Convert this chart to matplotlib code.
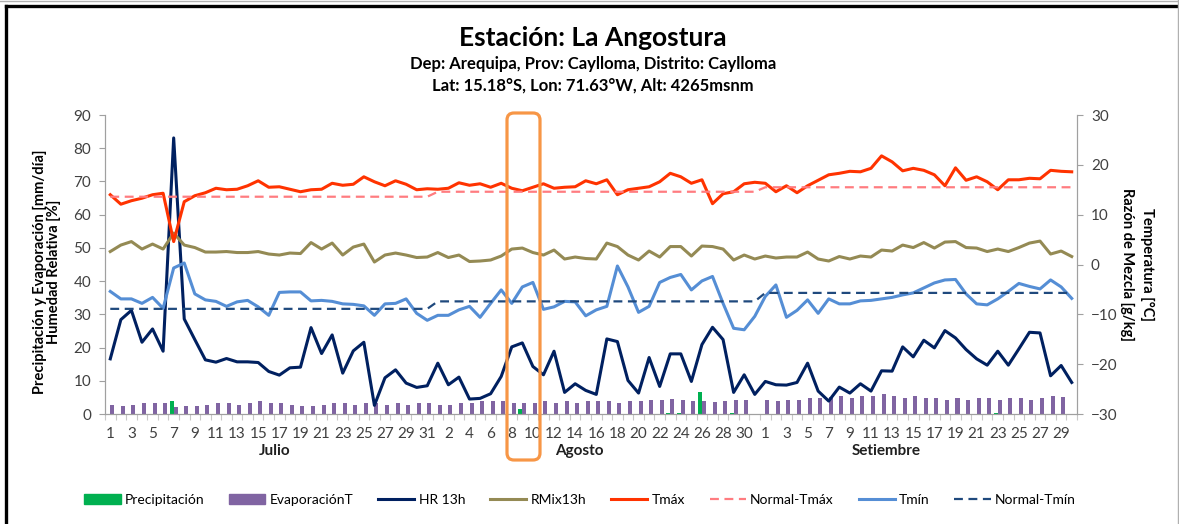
import numpy as np
import matplotlib
matplotlib.use('Agg')
import matplotlib.pyplot as plt
from matplotlib.patches import FancyBboxPatch, Patch
from matplotlib.lines import Line2D
import matplotlib.transforms as mtransforms

plt.rcParams['font.family'] = ['Lato', 'DejaVu Sans']

# dias Julio (31), Agosto (31), Setiembre (30)
days = list(range(1, 32)) + list(range(1, 32)) + list(range(1, 31))
months = ['Julio', 'Agosto', 'Setiembre']

precip = [0, 0, 0, 0, 0, 0, 3.8, 0, 0, 0, 0, 0, 0, 0, 0, 0, 0, 0, 0, 0, 0, 0, 0, 0, 0, 0, 0, 0, 0, 0, 0,
          0, 0, 0, 0, 0, 0, 0, 0, 1.6, 0, 0, 0, 0, 0, 0, 0, 0.1, 0, 0, 0, 0, 0, 0.2, 0.2, 0, 6.6, 0, 0, 0.2, 0, 0,
          0, 0, 0, 0, 0, 0, 0, 0, 0, 0, 0, 0, 0, 0, 0, 0, 0, 0, 0, 0, 0, 0, 0.2, 0, 0, 0, 0, 0, 0, 0]
evap = [2.8, 2.3, 2.8, 3.3, 3.3, 3.3, 2.1, 2.3, 2.3, 2.8, 3.3, 3.3, 2.8, 3.3, 3.8, 3.3, 3.3, 2.8, 2.3, 2.3,
        2.8, 3.3, 3.3, 2.8, 3.3, 3.3, 2.8, 3.3, 2.8, 3.3, 3.3,
        2.8, 2.8, 3.3, 3.3, 4.0, 4.0, 4.0, 3.3, 3.3, 3.3, 3.8, 3.3, 4.0, 3.3, 4.0, 4.0, 4.0, 3.3, 4.0,
        4.0, 4.3, 4.3, 4.6, 4.3, 4.0, 4.0, 3.5, 4.0, 4.3, 4.3, np.nan,
        4.3, 3.8, 4.3, 4.3, 4.8, 4.8, 5.0, 5.3, 4.8, 5.3, 5.3, 6.0, 5.3, 4.8, 5.3, 4.8, 4.8, 4.3, 4.8,
        4.3, 4.8, 4.8, 4.3, 4.8, 4.8, 4.3, 4.8, 5.3, 5.0, np.nan]
hr = [16.6, 28.4, 31.2, 21.6, 25.6, 18.9, 83.1, 28.6, 22.4, 16.3, 15.6, 16.7, 15.7, 15.7, 15.5, 12.8,
      11.7, 13.9, 14.1, 26.0, 18.2, 23.8, 12.3, 19.0, 21.6, 2.6, 10.9, 13.3, 9.3, 8.0, 8.5,
      15.3, 8.8, 11.1, 4.5, 4.7, 6.1, 11.3, 20.2, 21.4, 14.3, 11.8, 18.9, 6.5, 9.1, 7.1, 5.9, 22.6,
      21.8, 10.1, 6.3, 17.0, 8.3, 18.1, 18.1, 9.8, 20.9, 26.1, 22.4, 6.5, 11.8, 5.9,
      9.8, 8.8, 8.7, 9.5, 15.3, 6.9, 3.9, 8.1, 6.3, 9.1, 6.9, 13.0, 12.9, 20.2, 17.2, 22.2, 19.9,
      25.1, 22.9, 19.4, 16.6, 14.7, 18.9, 14.7, 19.6, 24.6, 24.4, 11.5, 14.6, 9.5]
rmix = [2.6, 3.9, 4.6, 3.1, 4.1, 3.1, 6.3, 3.9, 3.4, 2.5, 2.5, 2.6, 2.4, 2.4, 2.6, 2.1, 1.9, 2.3, 2.2,
        4.4, 3.1, 4.3, 1.9, 3.5, 4.1, 0.5, 1.9, 2.3, 1.9, 1.4, 1.5,
        2.4, 1.4, 1.9, 0.6, 0.7, 0.9, 1.7, 3.1, 3.3, 2.4, 1.9, 2.9, 1.1, 1.5, 1.2, 1.1, 4.3, 3.6, 1.9,
        0.9, 2.7, 1.5, 3.6, 3.6, 1.7, 3.7, 3.6, 3.1, 0.9, 1.9, 1.1,
        1.7, 1.3, 1.5, 1.5, 2.5, 1.1, 0.7, 1.6, 1.1, 1.7, 1.5, 2.9, 2.7, 3.9, 3.4, 4.4, 3.3, 4.5, 4.6,
        3.4, 3.3, 2.6, 3.1, 2.6, 3.4, 4.3, 4.7, 2.1, 2.7, 1.6]
tmax = [14.0, 12.1, 12.8, 13.3, 14.0, 14.3, 4.6, 12.6, 13.8, 14.4, 15.3, 15.0, 15.1, 15.8, 16.8, 15.5,
        15.6, 15.1, 14.6, 15.0, 15.1, 16.3, 15.9, 16.1, 17.6, 16.6, 15.8, 16.8, 16.1, 15.0, 15.2,
        15.1, 15.3, 16.4, 15.9, 16.2, 15.5, 16.3, 15.3, 14.8, 15.5, 16.2, 15.3, 15.5, 15.6, 16.8, 16.2,
        17.0, 14.0, 15.0, 15.3, 15.6, 16.6, 18.3, 17.6, 16.3, 17.0, 12.2, 14.2, 14.6, 16.2, 16.5,
        16.3, 14.6, 15.8, 14.4, 15.8, 16.9, 18.0, 18.3, 18.7, 18.6, 19.3, 21.8, 20.6, 18.8, 19.3, 18.9,
        18.0, 15.8, 19.4, 16.9, 17.6, 16.6, 15.0, 17.0, 17.0, 17.3, 17.2, 18.9, 18.7, 18.6]
tmin = [-5.4, -6.9, -6.9, -7.8, -6.6, -8.8, -0.7, 0.3, -5.9, -7.1, -7.4, -8.4, -7.5, -7.2, -8.5, -10.2,
        -5.6, -5.5, -5.5, -7.3, -7.2, -7.4, -7.9, -8.0, -8.3, -10.2, -7.9, -7.8, -6.9, -9.8, -11.2,
        -10.2, -10.2, -9.1, -8.4, -10.6, -7.8, -5.1, -7.8, -4.5, -3.6, -9.0, -8.5, -7.4, -7.5, -10.3,
        -9.1, -8.4, -0.3, -4.5, -9.6, -8.4, -3.6, -2.6, -2.0, -5.1, -3.3, -2.4, -7.8, -12.8, -13.1, -10.4,
        -6.4, -4.1, -10.6, -9.2, -7.1, -9.8, -6.9, -7.9, -7.9, -7.3, -7.2, -6.9, -6.6, -6.1, -5.7, -4.7,
        -3.7, -3.1, -3.0, -5.9, -7.9, -8.1, -6.9, -5.4, -3.8, -4.4, -4.9, -3.1, -4.5, -6.8]
# normales mensuales (Jul, Ago, Set)
normal_tmax_mes = [13.6, 14.6, 15.5]
normal_tmin_mes = [-8.9, -7.4, -5.7]
dias_mes = [31, 31, 30]

normal_tmax = np.repeat(normal_tmax_mes, dias_mes)
normal_tmin = np.repeat(normal_tmin_mes, dias_mes)

W, H = 1179, 524
fig = plt.figure(figsize=(W / 100, H / 100), dpi=100)
ax = fig.add_axes([105 / W, 1 - 414 / H, 972 / W, 299 / H])
ax2 = ax.twinx()

x = np.arange(len(days))
bw = 0.38
b1 = ax.bar(x - bw / 2, precip, width=bw, color='#00B050', zorder=2)
b2 = ax.bar(x + bw / 2, evap, width=bw, color='#8064A2', zorder=2)
l_hr, = ax.plot(x, hr, color='#002060', lw=2.2, zorder=3)

l_rm, = ax2.plot(x, rmix, color='#948A54', lw=2.2)
l_tx, = ax2.plot(x, tmax, color='#FF3300', lw=2.2)
l_ntx, = ax2.plot(x, normal_tmax, color='#FF7C80', lw=1.6, dashes=(4, 2.5))
l_tn, = ax2.plot(x, tmin, color='#558ED5', lw=2.2)
l_ntn, = ax2.plot(x, normal_tmin, color='#1F497D', lw=1.6, dashes=(4, 2.5))

ax.set_xlim(-0.5, len(days) - 0.5)
ax.set_ylim(0, 90)
ax2.set_ylim(-30, 30)
ax.set_yticks(np.arange(0, 91, 10))
ax2.set_yticks(np.arange(-30, 31, 10))

ax.set_xticks(x[::2])
ax.set_xticklabels([str(d) for d in days[::2]])
ax.set_xticks(np.arange(-0.5, len(days), 1), minor=True)
ax.tick_params(axis='x', which='major', length=0, pad=9, labelsize=11, labelcolor='#404040')
ax.tick_params(axis='x', which='minor', length=4, color='#C8C8C8', width=0.8)
ax.tick_params(axis='y', length=4, color='#A0A0A0', pad=6, labelsize=11, labelcolor='#404040')
ax2.tick_params(axis='y', length=4, color='#A0A0A0', pad=6, labelsize=11, labelcolor='#404040')

for a in (ax, ax2):
    a.spines['top'].set_visible(False)
    for s in ('left', 'right', 'bottom'):
        a.spines[s].set_color('#A0A0A0')

# etiquetas de mes debajo de los dias
trans = mtransforms.blended_transform_factory(ax.transData, ax.transAxes)
for m, xm in zip(months, [15.6, 44.4, 73.4]):
    ax.text(xm, -0.124, m, transform=trans, ha='center', va='center',
            fontsize=11, fontweight='bold', color='#202020')

fig.text(593 / W, 1 - 38 / H, 'Estación: La Angostura', ha='center', va='center',
         fontsize=19, fontweight='bold')
fig.text(593 / W, 1 - 64 / H, 'Dep: Arequipa, Prov: Caylloma, Distrito: Caylloma',
         ha='center', va='center', fontsize=12, fontweight='bold')
fig.text(593 / W, 1 - 86 / H, 'Lat: 15.18°S, Lon: 71.63°W, Alt: 4265msnm',
         ha='center', va='center', fontsize=12, fontweight='bold')

fig.text(40 / W, 1 - 272 / H, 'Precipitación y Evaporación [mm/día]', rotation=90,
         ha='center', va='center', fontsize=10.5, fontweight='bold')
fig.text(54 / W, 1 - 272 / H, 'Humedad Relativa [%]', rotation=90,
         ha='center', va='center', fontsize=10.5, fontweight='bold')
fig.text(1147 / W, 1 - 264 / H, 'Temperatura [°C]', rotation=270,
         ha='center', va='center', fontsize=10.5, fontweight='bold')
fig.text(1127 / W, 1 - 264 / H, 'Razón de Mezcla [g/kg]', rotation=270,
         ha='center', va='center', fontsize=10.5, fontweight='bold')

handles = [Patch(color='#00B050'), Patch(color='#8064A2'), l_hr, l_rm, l_tx, l_ntx, l_tn, l_ntn]
labels = ['Precipitación', 'EvaporaciónT', 'HR 13h', 'RMix13h', 'Tmáx', 'Normal-Tmáx', 'Tmín', 'Normal-Tmín']
fig.legend(handles, labels, loc='center', bbox_to_anchor=(580 / W, 1 - 500 / H), ncol=8,
           frameon=False, fontsize=10, handlelength=2.6, handletextpad=0.3, columnspacing=1.8)

# recuadro resaltando 8-10 de agosto
box = FancyBboxPatch((507 / 100, (H - 460) / 100), 33 / 100, 347 / 100,
                     boxstyle='round,pad=0,rounding_size=0.07', transform=fig.dpi_scale_trans,
                     fill=False, edgecolor='#F79646', lw=2.3, zorder=10)
fig.add_artist(box)

# marco
fig.add_artist(Line2D([6 / W, 6 / W], [0, 1 - 6 / H], color='black', lw=2.4))
fig.add_artist(Line2D([6 / W, 1], [1 - 6 / H, 1 - 6 / H], color='black', lw=2.4))
fig.add_artist(Line2D([0, 1], [1 - 1 / H, 1 - 1 / H], color='#B0B0B0', lw=1))
fig.add_artist(Line2D([1 - 1 / W, 1 - 1 / W], [0, 1], color='#B0B0B0', lw=1))

fig.savefig('out.png', dpi=100)
